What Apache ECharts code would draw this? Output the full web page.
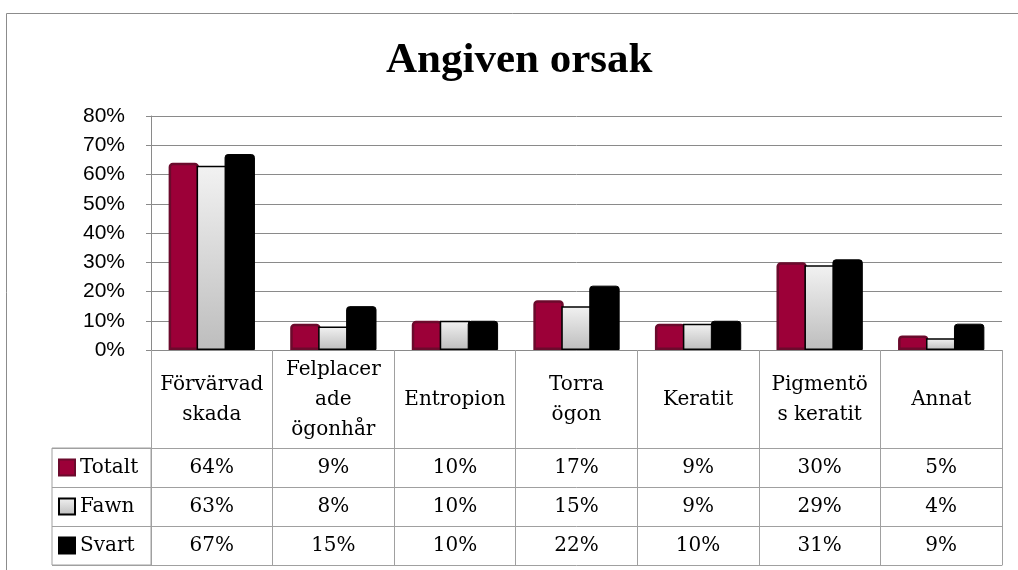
<!DOCTYPE html>
<html>
<head>
<meta charset="utf-8">
<title>Angiven orsak</title>
<script src="https://cdn.jsdelivr.net/npm/echarts@6/dist/echarts.min.js"></script>
<style>
  html, body { margin: 0; padding: 0; background: #fff; }
  #chart { width: 1018px; height: 570px; }
</style>
</head>
<body>
<div id="chart"></div>
<script>
// kategorier (radbrytningar som i originalet)
const categories = ['Förvärvad\nskada', 'Felplacer\nade\nögonhår', 'Entropion', 'Torra\nögon', 'Keratit', 'Pigmentö\ns keratit', 'Annat']
const seriesNames = ['Totalt', 'Fawn', 'Svart']
// andelar i procent
const totalt = [64, 9, 10, 17, 9, 30, 5]
const fawn = [63, 8, 10, 15, 9, 29, 4]
const svart = [67, 15, 10, 22, 10, 31, 9]
const yTicks = [0, 10, 20, 30, 40, 50, 60, 70, 80]

const tableFont = 'DejaVu Serif'
const lineColor = '#a0a0a0'
const gridColor = '#8a8a8a'

const rows = [totalt, fawn, svart]
const rowTop = [448, 487, 526]
const rowH = 39

// en x-axel per tabellrad, linjen ritas av axeln själv
const rowAxis = function (idx, offset) {
  const values = rows[idx]
  return {
    type: 'category',
    gridIndex: 0,
    position: 'bottom',
    offset: offset,
    data: categories,
    axisLine: { show: true, lineStyle: { color: lineColor, width: 1 } },
    axisTick: { show: false },
    axisLabel: {
      show: values != null,
      interval: 0,
      margin: 19.5,
      verticalAlign: 'middle',
      fontFamily: tableFont,
      fontSize: 20,
      color: '#000',
      formatter: function (v, i) { return values ? values[i] + '%' : '' }
    }
  }
}

// en legend per rad så att den hamnar i rätt tabellcell
const rowLegend = function (idx) {
  return {
    data: [seriesNames[idx]],
    orient: 'vertical',
    left: 58,
    top: rowTop[idx] + rowH / 2 - 10,
    padding: 0,
    icon: 'rect',
    itemWidth: 16,
    itemHeight: 16,
    selectedMode: false,
    textStyle: { fontFamily: tableFont, fontSize: 20, color: '#000' }
  }
}

const chart = echarts.init(document.getElementById('chart'), null, { renderer: 'canvas' })

const option = {
  animation: false,
  backgroundColor: '#fff',
  title: {
    text: 'Angiven orsak',
    left: 381,
    top: 34,
    textStyle: { fontFamily: 'Liberation Serif', fontWeight: 'bold', fontSize: 43, color: '#000' }
  },
  legend: [rowLegend(0), rowLegend(1), rowLegend(2)],
  grid: [
    { left: 151, right: 16, top: 116, bottom: 220, containLabel: false, outerBoundsMode: 'none' },
    // legendkolumnen i tabellen
    { left: 52, top: 448, width: 99, height: 117, show: true, borderColor: lineColor, borderWidth: 1, containLabel: false, outerBoundsMode: 'none' }
  ],
  xAxis: [
    {
      type: 'category',
      gridIndex: 0,
      data: categories,
      axisLine: { show: true, lineStyle: { color: gridColor, width: 1 } },
      axisTick: { show: true, interval: 0, length: 215, lineStyle: { color: lineColor, width: 1 } },
      axisLabel: {
        interval: 0,
        margin: 50,
        verticalAlign: 'middle',
        fontFamily: tableFont,
        fontSize: 20,
        lineHeight: 30,
        color: '#000'
      }
    },
    rowAxis(0, 98),
    rowAxis(1, 137),
    rowAxis(2, 176),
    rowAxis(3, 215),
    { type: 'value', gridIndex: 1, show: false }
  ],
  yAxis: [
    {
      type: 'value',
      gridIndex: 0,
      min: yTicks[0],
      max: yTicks[yTicks.length - 1],
      interval: 10,
      axisLine: { show: true, lineStyle: { color: gridColor, width: 1 } },
      axisTick: { show: true, length: 5, lineStyle: { color: gridColor } },
      splitLine: { show: true, lineStyle: { color: gridColor, width: 1 } },
      axisLabel: {
        margin: 26,
        fontFamily: 'Liberation Sans',
        fontSize: 21,
        color: '#000',
        formatter: '{value}%'
      }
    },
    {
      type: 'category',
      gridIndex: 1,
      inverse: true,
      data: seriesNames,
      axisLine: { show: false },
      axisTick: { show: false },
      axisLabel: { show: false },
      splitLine: { show: true, interval: 0, lineStyle: { color: lineColor, width: 1 } }
    }
  ],
  series: [
    {
      name: 'Totalt',
      type: 'bar',
      xAxisIndex: 0,
      yAxisIndex: 0,
      data: totalt,
      barGap: '-8%',
      barCategoryGap: '29%',
      itemStyle: { color: '#9c0038', borderColor: '#6b0a2c', borderWidth: 2.5, borderRadius: [3, 3, 0, 0] }
    },
    {
      name: 'Fawn',
      type: 'bar',
      xAxisIndex: 0,
      yAxisIndex: 0,
      data: fawn,
      itemStyle: {
        color: new echarts.graphic.LinearGradient(0, 0, 0, 1, [
          { offset: 0, color: '#f2f2f2' },
          { offset: 1, color: '#bdbdbd' }
        ]),
        borderColor: '#000',
        borderWidth: 1.5
      }
    },
    {
      name: 'Svart',
      type: 'bar',
      xAxisIndex: 0,
      yAxisIndex: 0,
      data: svart,
      itemStyle: { color: '#000', borderColor: '#000', borderWidth: 1, borderRadius: [3, 3, 0, 0] }
    }
  ],
  graphic: [
    {
      type: 'rect',
      silent: true,
      shape: { x: 6.5, y: 13.5, width: 1100, height: 600 },
      style: { fill: 'none', stroke: '#8c8c8c', lineWidth: 1 }
    }
  ]
}

chart.setOption(option)
window.addEventListener('resize', function () { chart.resize() })
</script>
</body>
</html>
